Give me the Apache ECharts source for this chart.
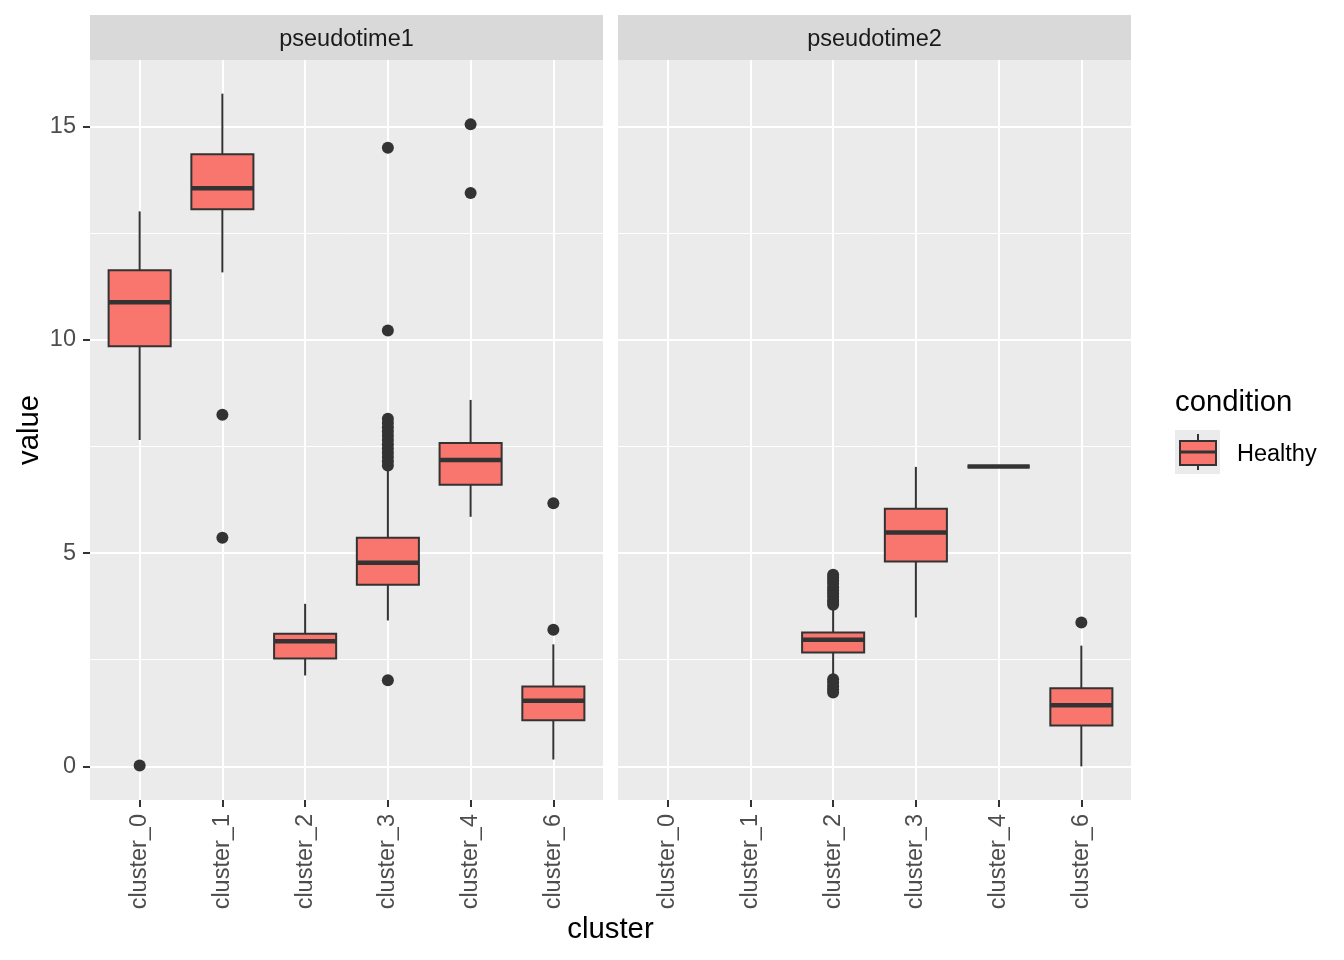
<!DOCTYPE html>
<html>
<head>
<meta charset="utf-8">
<script src="https://cdn.jsdelivr.net/npm/echarts@6/dist/echarts.min.js"></script>
<style>
html, body { margin: 0; padding: 0; background: #fff; }
#chart { width: 1344px; height: 960px; }
</style>
</head>
<body>
<div id="chart"></div>
<script>
const categories = ['cluster_0', 'cluster_1', 'cluster_2', 'cluster_3', 'cluster_4', 'cluster_6'];
const facets = ['pseudotime1', 'pseudotime2'];
const yTicks = [0, 5, 10, 15];
const yMinorTicks = [2.5, 7.5, 12.5];

// [lower whisker, Q1, median, Q3, upper whisker], null = no data
const boxesPt1 = [
    [7.65, 9.85, 10.88, 11.63, 13.01],
    [11.58, 13.06, 13.55, 14.35, 15.77],
    [2.13, 2.53, 2.93, 3.11, 3.81],
    [3.42, 4.26, 4.77, 5.36, 7.0],
    [5.85, 6.6, 7.18, 7.58, 8.59],
    [0.16, 1.08, 1.54, 1.87, 2.86]
];
const boxesPt2 = [
    null,
    null,
    [2.1, 2.67, 2.97, 3.14, 3.7],
    [3.49, 4.8, 5.48, 6.04, 7.02],
    [7.03, 7.03, 7.03, 7.03, 7.03],
    [0.0, 0.96, 1.43, 1.83, 2.83]
];

const outliersPt1 = [
    ['cluster_0', 0.02],
    ['cluster_1', 8.24], ['cluster_1', 5.36],
    ['cluster_3', 14.5], ['cluster_3', 10.22], ['cluster_3', 8.15], ['cluster_3', 8.05],
    ['cluster_3', 7.95], ['cluster_3', 7.85], ['cluster_3', 7.75], ['cluster_3', 7.65],
    ['cluster_3', 7.55], ['cluster_3', 7.45], ['cluster_3', 7.35], ['cluster_3', 7.25],
    ['cluster_3', 7.15], ['cluster_3', 7.05], ['cluster_3', 2.02],
    ['cluster_4', 15.05], ['cluster_4', 13.44],
    ['cluster_6', 6.17], ['cluster_6', 3.2]
];
const outliersPt2 = [
    ['cluster_2', 4.49], ['cluster_2', 4.42], ['cluster_2', 4.35], ['cluster_2', 4.28],
    ['cluster_2', 4.2], ['cluster_2', 4.12], ['cluster_2', 4.05], ['cluster_2', 3.98],
    ['cluster_2', 3.9], ['cluster_2', 3.85], ['cluster_2', 3.79],
    ['cluster_2', 2.04], ['cluster_2', 1.96], ['cluster_2', 1.88], ['cluster_2', 1.8], ['cluster_2', 1.73],
    ['cluster_6', 3.37]
];

const FONT = "'Liberation Sans', Arial, sans-serif";
const DARK = '#333333';
const FILL = '#F8766D';
const Y_MIN = -0.789;
const Y_MAX = 16.559;
const SMALL = 23.5;
const BIG = 29.3;

const panels = [
    { left: 90, boxes: boxesPt1, outliers: outliersPt1 },
    { left: 618, boxes: boxesPt2, outliers: outliersPt2 }
];
const PANEL_TOP = 60, PANEL_H = 740, PANEL_W = 513;

const tickPositions = categories.map((c, i) => i + 1);

function renderBox(params, api) {
    const x = api.value(0);
    const lo = api.coord([x, api.value(1)]);
    const q1 = api.coord([x, api.value(2)]);
    const md = api.coord([x, api.value(3)]);
    const q3 = api.coord([x, api.value(4)]);
    const hi = api.coord([x, api.value(5)]);
    const w = api.size([0.75, 0])[0];
    const lineStyle = { stroke: DARK, lineWidth: 2 };
    return {
        type: 'group',
        children: [
            { type: 'line', shape: { x1: lo[0], y1: lo[1], x2: q1[0], y2: q1[1] }, style: lineStyle },
            { type: 'line', shape: { x1: q3[0], y1: q3[1], x2: hi[0], y2: hi[1] }, style: lineStyle },
            {
                type: 'rect',
                shape: { x: q3[0] - w / 2, y: q3[1], width: w, height: q1[1] - q3[1] },
                style: { fill: FILL, stroke: DARK, lineWidth: 2 }
            },
            { type: 'line', shape: { x1: md[0] - w / 2, y1: md[1], x2: md[0] + w / 2, y2: md[1] }, style: { stroke: DARK, lineWidth: 4.5 } }
        ]
    };
}

const grids = [], xAxes = [], yAxes = [], series = [];

panels.forEach((p, k) => {
    grids.push({
        left: p.left, top: PANEL_TOP, width: PANEL_W, height: PANEL_H,
        show: true, backgroundColor: '#ebebeb', borderWidth: 0
    });
    xAxes.push({
        type: 'value', gridIndex: k, min: 0.4, max: 6.6, position: 'bottom',
        axisLine: { show: false, onZero: false },
        axisTick: { show: true, length: 7, customValues: tickPositions, lineStyle: { color: DARK, width: 2 } },
        axisLabel: {
            customValues: tickPositions, rotate: 90, margin: 14,
            color: '#4d4d4d', fontSize: SMALL, fontFamily: FONT,
            formatter: (v) => categories[Math.round(v) - 1]
        },
        splitLine: { show: true, lineStyle: { color: '#ffffff', width: 2 } }
    });
    // minor grid lines
    yAxes.push({
        type: 'value', gridIndex: k, min: Y_MIN, max: Y_MAX, position: 'left',
        axisLine: { show: false, onZero: false },
        axisTick: { show: false, customValues: yMinorTicks },
        axisLabel: { show: false, customValues: yMinorTicks },
        splitLine: { show: true, lineStyle: { color: '#ffffff', width: 1 } }
    });
    // major grid lines, ticks and labels
    yAxes.push({
        type: 'value', gridIndex: k, min: Y_MIN, max: Y_MAX, position: 'left',
        axisLine: { show: false, onZero: false },
        axisTick: { show: k === 0, length: 7, customValues: yTicks, lineStyle: { color: DARK, width: 2 } },
        axisLabel: {
            show: k === 0, customValues: yTicks, margin: 14,
            color: '#4d4d4d', fontSize: SMALL, fontFamily: FONT
        },
        splitLine: { show: true, lineStyle: { color: '#ffffff', width: 2 } }
    });

    series.push({
        type: 'custom',
        xAxisIndex: k,
        yAxisIndex: k * 2 + 1,
        renderItem: renderBox,
        encode: { x: 0, y: [1, 2, 3, 4, 5] },
        data: p.boxes.map((b, i) => b ? [i + 1].concat(b) : null).filter(Boolean),
        z: 3
    });
    series.push({
        type: 'scatter',
        xAxisIndex: k,
        yAxisIndex: k * 2 + 1,
        symbolSize: 12,
        itemStyle: { color: DARK, opacity: 1 },
        data: p.outliers.map((o) => [categories.indexOf(o[0]) + 1, o[1]]),
        z: 4
    });
});

const graphics = [];
panels.forEach((p, k) => {
    graphics.push({
        type: 'rect', left: p.left, top: 15,
        shape: { width: PANEL_W, height: 45 },
        style: { fill: '#d9d9d9' }
    });
    graphics.push({
        type: 'text', x: p.left + PANEL_W / 2, y: 40,
        style: { text: facets[k], font: SMALL + 'px ' + FONT, fill: '#1a1a1a', align: 'center', verticalAlign: 'middle' }
    });
});
graphics.push(
    {
        type: 'text', x: 610.5, y: 930,
        style: { text: 'cluster', font: BIG + 'px ' + FONT, fill: '#000', align: 'center', verticalAlign: 'middle' }
    },
    {
        type: 'text', x: 30, y: 430, rotation: Math.PI / 2,
        style: { text: 'value', font: BIG + 'px ' + FONT, fill: '#000', align: 'center', verticalAlign: 'middle' }
    },
    // legend
    {
        type: 'text', x: 1175, y: 403,
        style: { text: 'condition', font: BIG + 'px ' + FONT, fill: '#000', align: 'left', verticalAlign: 'middle' }
    },
    { type: 'rect', shape: { x: 1175, y: 430, width: 45, height: 44 }, style: { fill: '#ebebeb' } },
    { type: 'line', shape: { x1: 1198, y1: 434, x2: 1198, y2: 470 }, style: { stroke: DARK, lineWidth: 2 }, z: 10 },
    { type: 'rect', shape: { x: 1180, y: 441, width: 36, height: 24 }, style: { fill: FILL, stroke: DARK, lineWidth: 2 }, z: 11 },
    { type: 'line', shape: { x1: 1180, y1: 452, x2: 1216, y2: 452 }, style: { stroke: DARK, lineWidth: 3 }, z: 12 },
    {
        type: 'text', x: 1237, y: 455,
        style: { text: 'Healthy', font: SMALL + 'px ' + FONT, fill: '#000', align: 'left', verticalAlign: 'middle' }
    }
);

const chart = echarts.init(document.getElementById('chart'));
chart.setOption({
    backgroundColor: '#ffffff',
    animation: false,
    textStyle: { fontFamily: FONT },
    grid: grids,
    xAxis: xAxes,
    yAxis: yAxes,
    graphic: graphics,
    series: series
});
</script>
</body>
</html>
